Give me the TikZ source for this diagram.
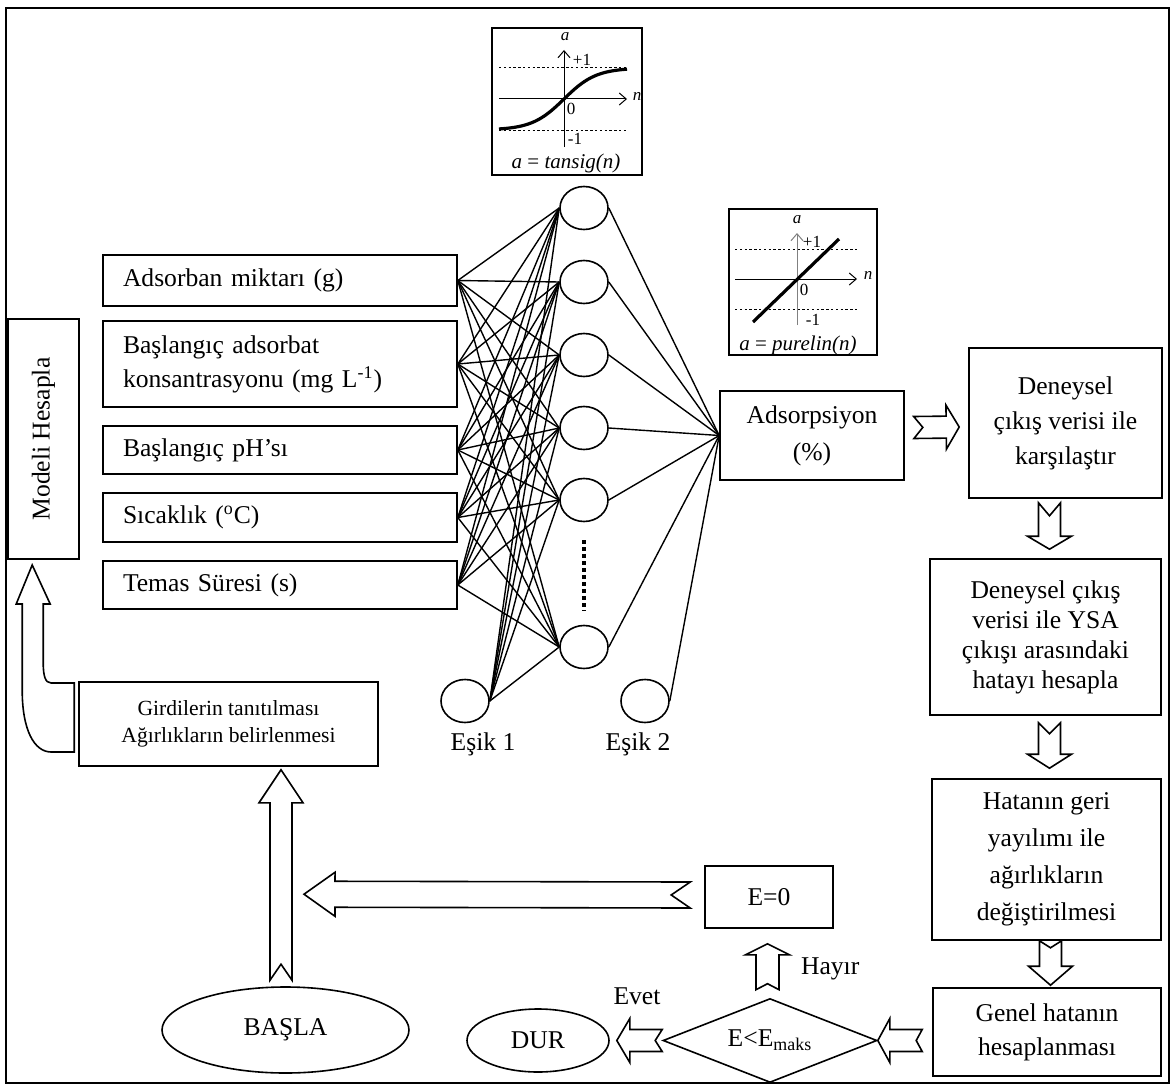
\documentclass[tikz,border=0pt]{standalone}
\usepackage{fontspec}
\setmainfont{Liberation Serif}
\usetikzlibrary{calc,arrows.meta,shapes.geometric,positioning}

% hollow block arrow with notched tail: [shaft half width]{head length}{notch}{tail}{tip}
\newcommand{\blockarrow}[5][5.5pt]{%
  \draw[blockline] let \p1=#4, \p2=#5,
      \n1={veclen(\x2-\x1,\y2-\y1)}, \n2={atan2(\y2-\y1,\x2-\x1)} in
    ($(\p1)+(\n2+90:#1)$) -- ($(\p1)+(\n2:\n1-#2)+(\n2+90:#1)$)
    -- ($(\p1)+(\n2:\n1-#2)+(\n2+90:11pt)$) -- (\p2)
    -- ($(\p1)+(\n2:\n1-#2)+(\n2-90:11pt)$) -- ($(\p1)+(\n2:\n1-#2)+(\n2-90:#1)$)
    -- ($(\p1)+(\n2-90:#1)$) -- ($(\p1)+(\n2:#3)$) -- cycle;}

\tikzset{
  box/.style={draw, line width=0.8pt, inner sep=0pt, align=center},
  inbox/.style={box, align=left, text width=157pt, inner xsep=10pt, minimum width=177pt},
  neuron/.style={ellipse, draw, line width=0.8pt, minimum width=24pt, minimum height=21.5pt, inner sep=0pt},
  terminal/.style={ellipse, draw, line width=0.8pt, inner sep=0pt},
  link/.style={line width=0.7pt},
  blockline/.style={draw, line width=0.8pt, fill=white, line join=miter},
  plotbox/.style={draw, line width=1.3pt, inner sep=0pt},
  plotlbl/.style={font=\fontsize{8.5}{9}\selectfont, inner sep=0pt},
  guide/.style={line width=0.4pt, dash pattern=on 1.2pt off 1.2pt},
  axis/.style={line width=0.5pt, -{Straight Barb[length=3.5pt,width=6pt]}},
  curve/.style={line width=1.6pt}
}

\begin{document}
\begin{tikzpicture}[x=0.5pt, y=-0.5pt, font=\fontsize{12.8}{16}\selectfont]
\useasboundingbox (0,0) rectangle (1172,1086);
\draw[line width=1pt] (6,8) rectangle (1169,1083);

% Inputs
\node[inbox, minimum height=25.5pt] (in1) at (280,280.5) {Adsorban miktarı (g)};
\node[inbox, minimum height=43pt, font=\fontsize{12.8}{17}\selectfont] (in2) at (280,364) {Başlangıç adsorbat\\konsantrasyonu (mg L\textsuperscript{-1})};
\node[inbox, minimum height=24pt] (in3) at (280,450) {Başlangıç pH’sı};
\node[inbox, minimum height=24.5pt] (in4) at (280,517.5) {Sıcaklık (\textsuperscript{o}C)};
\node[inbox, minimum height=24pt] (in5) at (280,585) {Temas Süresi (s)};

% Hidden layer and thresholds
\foreach \y [count=\i] in {208,282,355,428,500,647}
  \node[neuron] (h\i) at (584,\y) {};
\node[neuron] (b1) at (465,701) {};
\node[neuron] (b2) at (645,701) {};
\node (b1lbl) at (483,744) {Eşik 1};
\node (b2lbl) at (638,744) {Eşik 2};
\draw[line width=2pt, dash pattern=on 2pt off 1.5pt] ($(h5.south)+(0,18)$) -- ($(h6.north)+(0,-14)$);

% Output
\node[box, minimum width=92pt, minimum height=44.5pt, font=\fontsize{12.8}{18.5}\selectfont] (out) at (812,435.5) {Adsorpsiyon\\(\%)};

% Links
\foreach \i in {1,...,5}
  \foreach \j in {1,...,6}
    \draw[link] (in\i.east) -- (h\j.west);
\foreach \j in {1,...,6} {
  \draw[link] (b1.east) -- (h\j.west);
  \draw[link] (h\j.east) -- (out.west);
}
\draw[link] (b2.east) -- (out.west);

% Transfer functions
\node[plotbox, minimum width=75pt, minimum height=73.5pt] (tansig) at (567,101.5) {};
\draw[guide] (499,67) -- (628,67);
\draw[guide] (499,130) -- (628,130);
\draw[axis] (564,147) -- (564,50);
\draw[axis] (499,99) -- (627,99);
\draw[curve] plot[domain=499:627, samples=40, smooth] (\x, {99-31*tanh((\x-564)/32)});
\node[plotlbl] at (565,37) {\textit{a}};
\node[plotlbl] at (582,60) {+1};
\node[plotlbl] at (571,109) {0};
\node[plotlbl] at (575,139) {-1};
\node[plotlbl] at (637,96) {\textit{n}};
\node[plotlbl, font=\fontsize{10.5}{11}\selectfont] at (566,163) {\textit{a} = \textit{tansig(n)}};

\node[plotbox, minimum width=74pt, minimum height=73pt] (purelin) at (803,282) {};
\draw[guide] (735,249) -- (858,249);
\draw[guide] (735,309) -- (858,309);
\draw[axis, gray] (797,325) -- (797,233);
\draw[axis] (735,279) -- (857,279);
\draw[curve] (753,322) -- (839,239);
\node[plotlbl] at (797,220) {\textit{a}};
\node[plotlbl] at (812,242) {+1};
\node[plotlbl] at (804,290) {0};
\node[plotlbl] at (813,320) {-1};
\node[plotlbl] at (868,275) {\textit{n}};
\node[plotlbl, font=\fontsize{10.5}{11}\selectfont] at (798,345) {\textit{a} = \textit{purelin(n)}};

% Flow
\node[box, rotate=90, minimum width=120pt, minimum height=35.5pt] (model) at (43.5,439) {Modeli Hesapla};
\node[box, minimum width=149.5pt, minimum height=42pt, font=\fontsize{10.8}{13.5}\selectfont] (init) at (228.5,724) {Girdilerin tanıtılması\\Ağırlıkların belirlenmesi};
\node[terminal, minimum width=123.5pt, minimum height=43pt] (start) at (285.5,1030) {BAŞLA};
\node[terminal, minimum width=71pt, minimum height=31.5pt] (stop) at (538,1040.5) {DUR};
\node[diamond, draw, line width=0.8pt, aspect=2.55, minimum width=107pt, minimum height=42pt, inner sep=0pt] (dec) at (770,1040.5) {E<E\textsubscript{maks}};
\node[box, minimum width=64pt, minimum height=31pt] (ezero) at (769,897) {E=0};

\node[box, minimum width=96.5pt, minimum height=75pt, font=\fontsize{12.8}{17.5}\selectfont] (cmp) at (1065.5,423) {Deneysel\\çıkış verisi ile\\karşılaştır};
\node[box, minimum width=115.5pt, minimum height=78pt, font=\fontsize{12.8}{15}\selectfont] (err) at (1045.5,637) {Deneysel çıkış\\verisi ile YSA\\çıkışı arasındaki\\hatayı hesapla};
\node[box, minimum width=114.5pt, minimum height=80.5pt, font=\fontsize{12.8}{18.5}\selectfont] (upd) at (1046.5,859.5) {Hatanın geri\\yayılımı ile\\ağırlıkların\\değiştirilmesi};
\node[box, minimum width=114pt, minimum height=44pt, font=\fontsize{12.8}{17}\selectfont] (tot) at (1047,1032) {Genel hatanın\\hesaplanması};

\node[anchor=west] (hayir) at (794,969) {Hayır};
\node (evet) at (637,996) {Evet};
\coordinate (stem) at ($(start.north)+(0,-92)$);

% Block arrows
\blockarrow{6.5pt}{4.5pt}{($(out.east)+(9,-8)$)}{($(cmp.west)+(-9,4)$)}
\blockarrow{6.5pt}{6.5pt}{($(cmp.south -| err.north)+(4,4)$)}{($(err.north)+(4,-9)$)}
\blockarrow{7pt}{5.5pt}{($(err.south)+(4,7)$)}{($(upd.north)+(3,-10)$)}
\blockarrow{9.5pt}{3.5pt}{($(upd.south)+(4,0)$)}{($(tot.north)+(3.5,-2)$)}
\blockarrow{6pt}{3pt}{($(tot.west |- dec.east)+(-10,0)$)}{(dec.east)}
\blockarrow{6.5pt}{3.5pt}{(dec.west)}{($(stop.east)+(7,0)$)}
\blockarrow[5.75pt]{5.5pt}{3pt}{($(dec.north)+(-2.5,-8)$)}{($(ezero.south)+(-1.5,15)$)}
\blockarrow[6.5pt]{15.5pt}{9.5pt}{($(ezero.west)+(-14,-2)$)}{($(stem)+(18.5,0)$)}
\blockarrow{16.5pt}{8pt}{($(start.north)+(-4.5,-6)$)}{($(init.south)+(52.5,3)$)}

% Curved arrow into the model box
\begin{scope}[shift={(init.west)}]
\draw[blockline] (-46,-159) -- (-28,-120) -- (-35,-120) -- (-35,-62)
  .. controls (-35,-48) and (-33,-41) .. (-27,-41) -- (-4,-41) -- (-4,28) -- (-27,28)
  .. controls (-44,28) and (-56,6) .. (-56,-34) -- (-56,-120) -- (-62,-120) -- cycle;
\end{scope}

\end{tikzpicture}
\end{document}
